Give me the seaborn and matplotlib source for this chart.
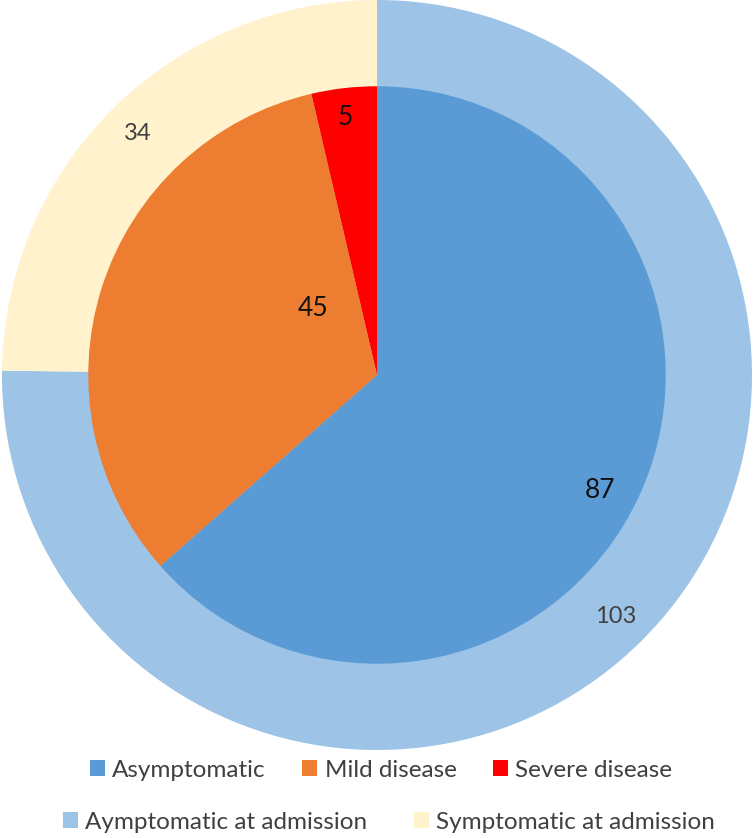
import matplotlib
matplotlib.use("Agg")
import matplotlib.pyplot as plt
import seaborn as sns
import numpy as np
from matplotlib.patches import Patch

# data
inner_labels = ['Asymptomatic', 'Mild disease', 'Severe disease']
inner_values = [87, 45, 5]
outer_labels = ['Aymptomatic at admission', 'Symptomatic at admission']
outer_values = [103, 34]

inner_colors = ['#5B9BD5', '#ED7D31', '#FF0000']
outer_colors = ['#9DC3E6', '#FFF2CC']

sns.set_theme(style="white")
plt.rcParams['font.family'] = ['Lato', 'DejaVu Sans']

fig = plt.figure(figsize=(7.54, 8.38), dpi=100)
ax = fig.add_axes([2 / 754, 1 - 750 / 838, 750 / 754, 750 / 838])

# outer ring (full pie drawn behind)
wo, to, ao = ax.pie(outer_values, colors=outer_colors, radius=1.0, startangle=90,
                    counterclock=False, autopct=lambda p: '{:.0f}'.format(p * sum(outer_values) / 100),
                    pctdistance=0.907, wedgeprops=dict(linewidth=0),
                    textprops=dict(fontsize=17, color='#404040'))

# inner pie
r_in = 0.77
wi, ti, ai = ax.pie(inner_values, colors=inner_colors, radius=r_in, startangle=90,
                    counterclock=False, autopct=lambda p: '{:.0f}'.format(p * sum(inner_values) / 100),
                    pctdistance=0.87, wedgeprops=dict(linewidth=0),
                    textprops=dict(fontsize=19, color='#111111'))

# Excel-style label placement (radius fraction, angle in degrees)
inner_label_pos = [(0.87, -27.5), (0.32, 133.7), (0.90, 97.0)]
for t, (rf, ang) in zip(ai, inner_label_pos):
    a = np.deg2rad(ang)
    t.set_position((r_in * rf * np.cos(a), r_in * rf * np.sin(a)))

ax.set_xlim(-1, 1)
ax.set_ylim(-1, 1)
ax.set_aspect('equal')
ax.axis('off')

h1 = [Patch(facecolor=c, edgecolor='none') for c in inner_colors]
h2 = [Patch(facecolor=c, edgecolor='none') for c in outer_colors]

leg1 = fig.legend(h1, inner_labels, loc='center', bbox_to_anchor=(381 / 754, 1 - 770 / 838),
                  ncol=3, frameon=False, fontsize=17.5, handlelength=0.62, handleheight=0.6,
                  handletextpad=0.3, columnspacing=1.5, labelcolor='#404040')
leg2 = fig.legend(h2, outer_labels, loc='center', bbox_to_anchor=(389 / 754, 1 - 822 / 838),
                  ncol=2, frameon=False, fontsize=17.5, handlelength=0.62, handleheight=0.6,
                  handletextpad=0.3, columnspacing=1.9, labelcolor='#404040')

fig.savefig('out.png', dpi=100, facecolor='white')
